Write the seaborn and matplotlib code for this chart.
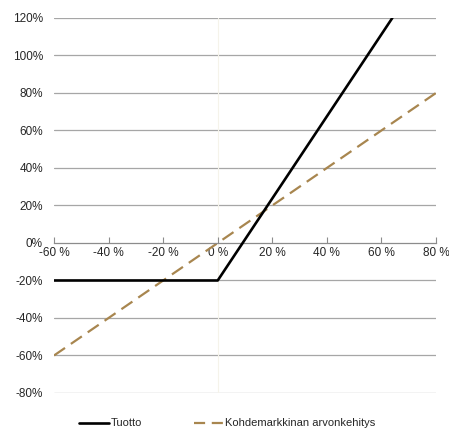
import pandas as pd
import seaborn as sns
import matplotlib.pyplot as plt
from matplotlib.ticker import FixedLocator

# data (percent)
tuotto_x = [-60, 0, 64]
tuotto_y = [-20, -20, 120]
markkina_x = [-60, 0, 80]
markkina_y = [-60, 0, 80]

x_ticks = [-60, -40, -20, 0, 20, 40, 60, 80]
y_ticks = [-80, -60, -40, -20, 0, 20, 40, 60, 80, 100, 120]

sns.set_style('white')
plt.rcParams['font.family'] = ['Liberation Sans Narrow', 'Liberation Sans', 'DejaVu Sans']

df = pd.concat([
    pd.DataFrame({'x': tuotto_x, 'y': tuotto_y, 'sarja': 'Tuotto'}),
    pd.DataFrame({'x': markkina_x, 'y': markkina_y, 'sarja': 'Kohdemarkkinan arvonkehitys'}),
])

fig = plt.figure(figsize=(4.49, 4.28), dpi=100)
ax = fig.add_axes([0.1203, 0.0818, 0.8507, 0.8762])

for y in y_ticks:
    if y != 0:
        ax.axhline(y, color='#a6a6a6', lw=0.9, zorder=0)
ax.axvline(0, color='#f5f3ea', lw=0.8, zorder=0)

sns.lineplot(data=df[df.sarja == 'Tuotto'], x='x', y='y', color='black',
             lw=1.9, ax=ax, label='Tuotto', zorder=3)
sns.lineplot(data=df[df.sarja != 'Tuotto'], x='x', y='y', color='#a8864f',
             lw=1.6, ax=ax, label='Kohdemarkkinan arvonkehitys',
             dashes=False, zorder=2)
ax.lines[-1].set_dashes([6, 3.2])

ax.set_xlim(-60, 80)
ax.set_ylim(-80, 120)
ax.set_xlabel('')
ax.set_ylabel('')

for s in ['top', 'right', 'left']:
    ax.spines[s].set_visible(False)
ax.spines['bottom'].set_position(('data', 0))
ax.spines['bottom'].set_color('#8c8c8c')
ax.spines['bottom'].set_linewidth(0.9)

ax.xaxis.set_major_locator(FixedLocator(x_ticks))
ax.set_xticklabels([f'{v} %' for v in x_ticks])
ax.yaxis.set_major_locator(FixedLocator(y_ticks))
ax.set_yticklabels([f'{v}%' for v in y_ticks])
ax.tick_params(axis='x', direction='in', length=4, color='#8c8c8c',
               labelsize=8.5, pad=3, bottom=True)
ax.tick_params(axis='y', length=0, labelsize=8.5, pad=8)

leg = ax.legend(loc='upper left', bbox_to_anchor=(0.055, -0.056), ncol=2, frameon=False,
                fontsize=8, handlelength=2.7, handletextpad=0.1, columnspacing=4.7,
                borderaxespad=0)
for h in leg.get_lines():
    if h.get_label() != 'Tuotto':
        h.set_dashes([5, 3])

fig.savefig('out.png', dpi=100)
